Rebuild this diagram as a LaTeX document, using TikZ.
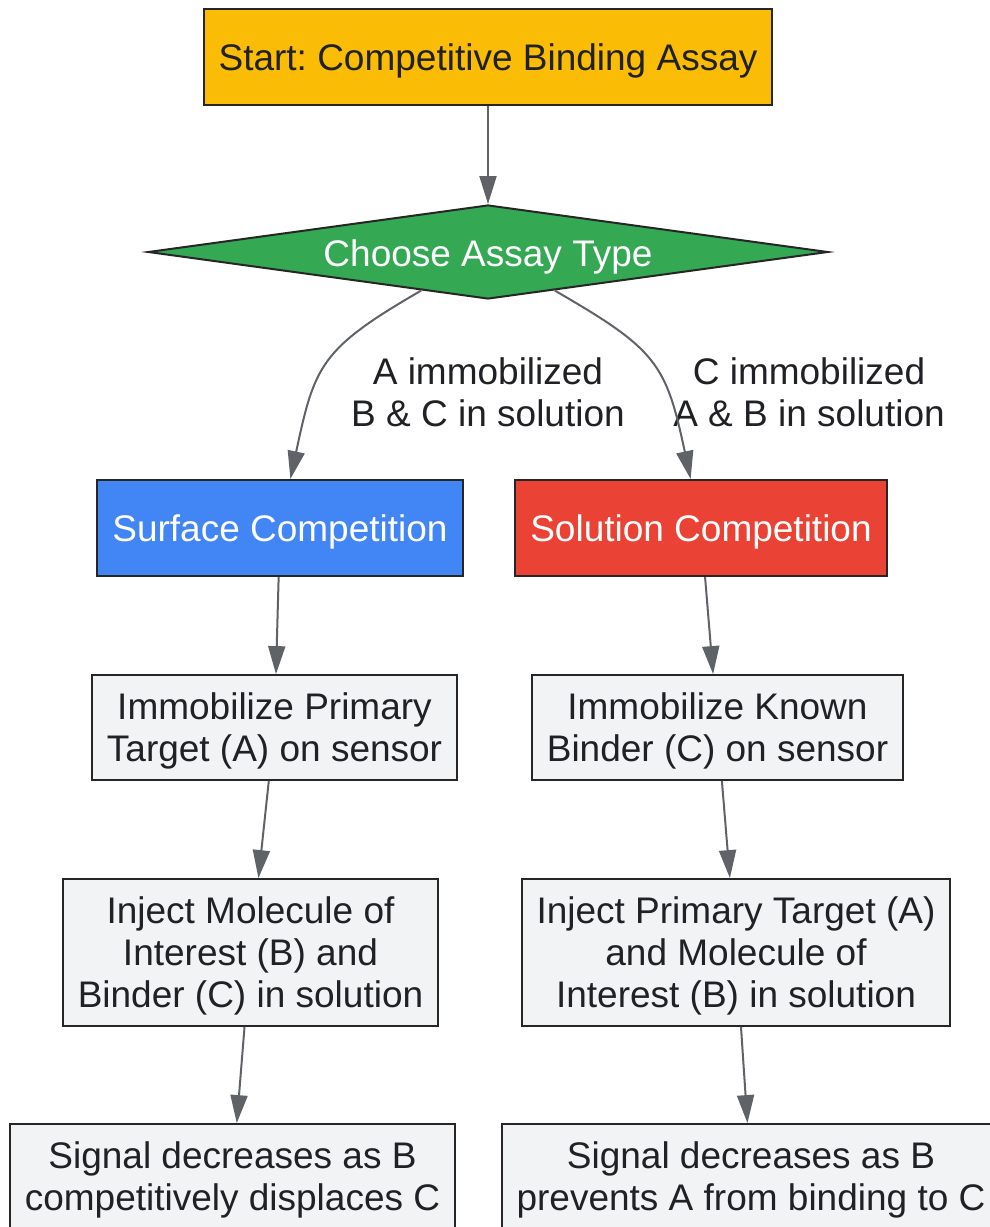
\documentclass[tikz,border=0pt]{standalone}
\usepackage{fontspec}
\setmainfont{Liberation Sans}
\usetikzlibrary{positioning,shapes.geometric,arrows.meta}
\frenchspacing

\definecolor{startcol}{HTML}{FBBC05}
\definecolor{choicecol}{HTML}{34A853}
\definecolor{surfcol}{HTML}{4285F4}
\definecolor{solcol}{HTML}{EA4335}
\definecolor{stepcol}{HTML}{F1F3F4}
\definecolor{edgecol}{HTML}{5F6368}
\definecolor{inkcol}{HTML}{202124}
\definecolor{rimcol}{HTML}{262626}

\tikzset{
  box/.style={rectangle,draw=rimcol,line width=2pt,text=inkcol,align=center,
    font=\fontsize{37}{42}\selectfont,inner xsep=15pt,inner ysep=18pt,
    text depth=0pt,minimum height=96pt},
  startbox/.style={box,fill=startcol},
  surfbox/.style={box,fill=surfcol,text=white},
  solbox/.style={box,fill=solcol,text=white},
  stepbox/.style={box,fill=stepcol},
  decision/.style={diamond,draw=rimcol,line width=2pt,fill=choicecol,text=white,
    font=\fontsize{37}{42}\selectfont,aspect=7.23,inner sep=0pt,
    minimum width=680pt,minimum height=94pt,execute at begin node={\rule{0pt}{37pt}}},
  lbl/.style={text=inkcol,align=center,font=\fontsize{37}{42}\selectfont},
  every edge/.style={draw=edgecol,line width=2pt}
}

\begin{document}
\begin{tikzpicture}[x=1pt,y=-1pt,on grid,>={Triangle[length=28pt,width=17pt]}]
   \useasboundingbox (0,0) rectangle (990,1227);
   \node[startbox] (start) at (488,57) {Start: Competitive Binding Assay};
   \node[decision] (choose) [below=195pt of start] {Choose Assay Type};
   \node[surfbox] (surf) [below left=276pt and 208pt of choose] {Surface Competition};
   \node[solbox] (sol) [below right=276pt and 213pt of choose] {Solution Competition};
   \node[lbl] (lblA) [below=140pt of choose] {A immobilized\\B \& C in solution};
   \node[lbl] (lblC) [below right=140pt and 321pt of choose] {C immobilized\\A \& B in solution};
   \node[stepbox] (immA) [below left=199.5pt and 5.5pt of surf] {Immobilize Primary\\Target (A) on sensor};
   \node[stepbox] (immC) [below right=199.5pt and 16.5pt of sol] {Immobilize Known\\Binder (C) on sensor};
   \node[stepbox] (injBC) [below left=225pt and 24pt of immA] {Inject Molecule of\\Interest (B) and\\Binder (C) in solution};
   \node[stepbox] (injAB) [below right=225pt and 18.5pt of immC] {Inject Primary Target (A)\\and Molecule of\\Interest (B) in solution};
   \node[stepbox] (sigA) [below left=224pt and 18pt of injBC] {Signal decreases as B\\competitively displaces C};
   \node[stepbox] (sigC) [below right=224pt and 15pt of injAB] {Signal decreases as B\\prevents A from binding to C};
    \path[->,draw=edgecol,line width=2pt]
(start) edge (choose)
(choose) edge [out=-150,in=78,looseness=1.3] (surf)
	edge [out=-30,in=102,looseness=1.3] (sol)
(surf) edge (immA)
(sol) edge (immC)
(immA) edge (injBC)
(immC) edge (injAB)
(injBC) edge (sigA)
(injAB) edge (sigC);
\end{tikzpicture}
\end{document}
